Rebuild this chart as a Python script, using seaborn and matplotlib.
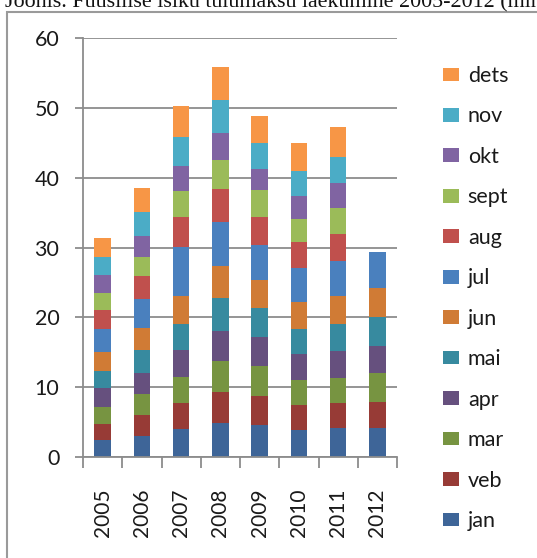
import numpy as np
import pandas as pd
import matplotlib
matplotlib.use("Agg")
import matplotlib.pyplot as plt
import seaborn as sns
from matplotlib.patches import Patch, Rectangle
from matplotlib.ticker import FixedLocator

years = ["2005", "2006", "2007", "2008", "2009", "2010", "2011", "2012"]
months = ["jan", "veb", "mar", "apr", "mai", "jun", "jul", "aug", "sept", "okt", "nov", "dets"]

jan = [2.5, 3.0, 4.0, 4.9, 4.6, 3.9, 4.1, 4.1]
veb = [2.2, 3.0, 3.7, 4.4, 4.1, 3.5, 3.6, 3.8]
mar = [2.4, 3.0, 3.7, 4.4, 4.4, 3.6, 3.6, 4.2]
apr = [2.8, 3.0, 3.9, 4.4, 4.1, 3.8, 3.9, 3.8]
mai = [2.4, 3.3, 3.8, 4.7, 4.1, 3.6, 3.8, 4.1]
jun = [2.7, 3.2, 3.9, 4.6, 4.1, 3.8, 4.1, 4.2]
jul = [3.3, 4.1, 7.1, 6.3, 5.0, 4.8, 5.0, 5.2]
aug = [2.7, 3.3, 4.2, 4.7, 3.9, 3.8, 3.9, np.nan]
sept = [2.5, 2.7, 3.8, 4.1, 3.9, 3.3, 3.6, np.nan]
okt = [2.5, 3.0, 3.6, 3.9, 3.0, 3.3, 3.6, np.nan]
nov = [2.7, 3.5, 4.1, 4.7, 3.8, 3.6, 3.8, np.nan]
dets = [2.7, 3.4, 4.4, 4.8, 3.9, 3.9, 4.2, np.nan]

colors = ["#3E6598", "#973B36", "#779441", "#66507E", "#378A9F", "#D07B35",
          "#4A80BE", "#C0504D", "#9BBB59", "#8064A2", "#4BACC6", "#F79646"]

series = [jan, veb, mar, apr, mai, jun, jul, aug, sept, okt, nov, dets]
df = pd.DataFrame({m: s for m, s in zip(months, series)}, index=years)
cum = df.cumsum(axis=1)

sns.set_theme(style="white")
plt.rcParams['font.family'] = ['Lato', 'DejaVu Sans']

W, H = 537, 558
fig = plt.figure(figsize=(W / 100, H / 100), dpi=100)
ax = fig.add_axes([83 / W, 1 - 457 / H, 314 / W, 419 / H])

for m, c in reversed(list(zip(months, colors))):
    sns.barplot(x=years, y=cum[m].values, order=years, color=c, saturation=1,
                width=0.42, errorbar=None, linewidth=0, ax=ax)

grid_c = "#8c8c8c"
ax.set_xlim(-0.5, 7.5)
ax.set_ylim(0, 60)
ax.set_yticks(range(0, 61, 10))
ax.yaxis.grid(True, color=grid_c, lw=1.3)
ax.xaxis.grid(False)
ax.set_axisbelow(True)
for s in ["top", "right"]:
    ax.spines[s].set_visible(False)
for s in ["left", "bottom"]:
    ax.spines[s].set_color(grid_c)
    ax.spines[s].set_linewidth(1.3)

ax.set_xticks(range(len(years)))
ax.set_xticklabels(years, rotation=90)
ax.xaxis.set_minor_locator(FixedLocator(np.arange(-0.5, 8, 1.0)))
ax.tick_params(axis="x", which="major", length=0, pad=23, labelsize=15, colors="#1a1a1a")
ax.tick_params(axis="x", which="minor", length=8, width=1.3, color=grid_c, direction="out", bottom=True)
ax.tick_params(axis="y", which="major", length=6, width=1.3, color=grid_c, pad=11,
               labelsize=15.5, labelcolor="#1a1a1a", left=True)
ax.set_xlabel("")
ax.set_ylabel("")

handles = [Patch(facecolor=c, edgecolor="none") for c in colors][::-1]
labels = months[::-1]
fig.legend(handles, labels, loc="upper left", bbox_to_anchor=(443 / W, 1 - 66 / H),
           frameon=False, fontsize=15.5, handlelength=0.75, handleheight=0.6,
           handletextpad=0.4, labelspacing=0.95, borderaxespad=0, borderpad=0,
           labelcolor="#1a1a1a")

fig.patches.append(Rectangle((7.5 / W, -0.1), 2, 1 - 12 / H + 0.1, transform=fig.transFigure,
                             fill=False, edgecolor="#9a9a9a", lw=1.5))
fig.text(5 / W, 1 - 7 / H, "Joonis. Füüsilise isiku tulumaksu laekumine 2005-2012 (mln",
         family="Liberation Serif", fontsize=15.8, va="baseline", ha="left", color="#111111")

fig.savefig("out.png", dpi=100)
